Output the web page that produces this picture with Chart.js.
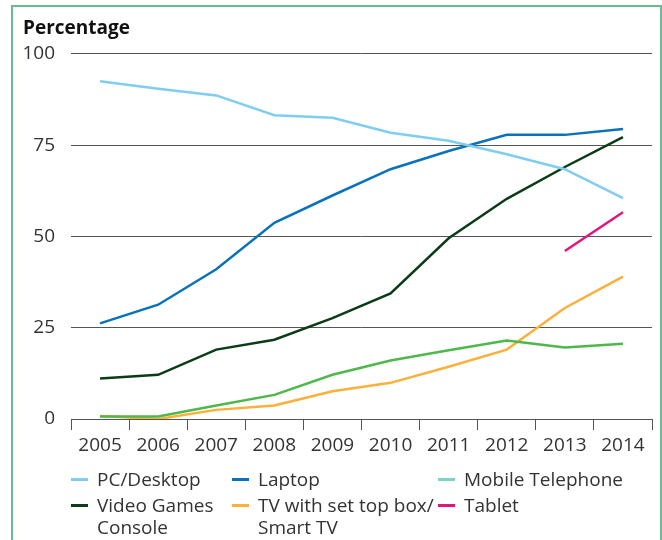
<!DOCTYPE html>
<html>
<head>
<meta charset="utf-8">
<script src="https://cdn.jsdelivr.net/npm/chart.js@4"></script>
<style>
  html, body { margin: 0; padding: 0; background: #fff; }
  body { width: 662px; height: 540px; position: relative; overflow: hidden; font-family: 'Open Sans', sans-serif; }
  #frame { position: absolute; left: 11px; top: 5px; width: 651px; height: 600px; box-sizing: border-box; border: 2px solid #68bd8e; }
  #chart { position: absolute; left: 0; top: 0; }
  #legend { position: absolute; left: 71px; top: 468px; display: grid; grid-template-columns: 161px 206px auto; row-gap: 4px; }
  .item { display: flex; align-items: flex-start; font-size: 19px; line-height: 22px; color: #333; white-space: pre-line; }
  .sw { width: 17px; height: 3px; margin-top: 10px; margin-right: 9px; flex: none; }
</style>
</head>
<body>
<div id="frame"></div>
<canvas id="chart" width="662" height="470"></canvas>
<div id="legend"></div>
<script>
const years = ['2005', '2006', '2007', '2008', '2009', '2010', '2011', '2012', '2013', '2014'];

const pcDesktop  = [92.5, 90.4, 88.6, 83.2, 82.5, 78.4, 76.2, 72.5, 68.4, 60.5];
const laptop     = [26.2, 31.3, 41.0, 53.7, 61.2, 68.4, 73.4, 77.8, 77.8, 79.4];
const mobile     = [0.7, 0.7, 3.7, 6.6, 12.1, 16.0, 18.8, 21.5, 19.6, 20.6];
const videoGames = [11.1, 12.1, 19.0, 21.7, 27.6, 34.4, 49.5, 60.3, 69.0, 77.2];
const tvBox      = [0.8, 0.0, 2.5, 3.7, 7.6, 9.9, 14.3, 19.0, 30.4, 39.0];
const tablet     = [null, null, null, null, null, null, null, null, 46.0, 56.6];

const yTicks = [0, 25, 50, 75, 100];

const series = [
  { label: 'PC/Desktop', data: pcDesktop, color: '#7fcdf0', legendColor: '#7fcdf0' },
  { label: 'Laptop', data: laptop, color: '#0a71bb', legendColor: '#0a71bb' },
  { label: 'Mobile Telephone', data: mobile, color: '#4fb84a', legendColor: '#7ed3c3' },
  { label: 'Video Games\nConsole', data: videoGames, color: '#0c3b17', legendColor: '#0c3b17' },
  { label: 'TV with set top box/\nSmart TV', data: tvBox, color: '#fbb03b', legendColor: '#fbb03b' },
  { label: 'Tablet', data: tablet, color: '#e3157d', legendColor: '#e3157d' }
];

const tickFont = { family: 'Open Sans', size: 19 };

new Chart(document.getElementById('chart'), {
  type: 'line',
  data: {
    labels: years,
    datasets: series.map(s => ({
      label: s.label,
      data: s.data,
      borderColor: s.color,
      backgroundColor: s.color,
      borderWidth: 2.5,
      pointRadius: 0,
      tension: 0,
      spanGaps: false
    }))
  },
  options: {
    responsive: false,
    animation: false,
    layout: { padding: { left: 23, right: 10, top: 0, bottom: 11 } },
    plugins: {
      legend: { display: false },
      tooltip: { enabled: false },
      title: {
        display: true,
        text: 'Percentage',
        align: 'start',
        color: '#111',
        font: { family: 'Open Sans', size: 19, weight: 'bold' },
        padding: { top: 17, bottom: 14 }
      }
    },
    scales: {
      x: {
        offset: true,
        afterFit: s => { s.height = 40; },
        grid: { offset: true, drawOnChartArea: false, tickLength: 11, color: '#555' },
        border: { color: '#555' },
        ticks: { color: '#333', font: tickFont, padding: 4, maxRotation: 0 }
      },
      y: {
        min: 0,
        max: 100,
        afterFit: s => { s.width = 48; },
        afterBuildTicks: s => { s.ticks = yTicks.map(v => ({ value: v })); },
        grid: { drawTicks: false, color: '#555' },
        border: { display: false },
        ticks: { color: '#333', font: tickFont, padding: 16 }
      }
    }
  }
});

const legend = document.getElementById('legend');
series.forEach(s => {
  const item = document.createElement('div');
  item.className = 'item';
  const sw = document.createElement('span');
  sw.className = 'sw';
  sw.style.background = s.legendColor;
  const tx = document.createElement('span');
  tx.textContent = s.label;
  item.appendChild(sw);
  item.appendChild(tx);
  legend.appendChild(item);
});
</script>
</body>
</html>
